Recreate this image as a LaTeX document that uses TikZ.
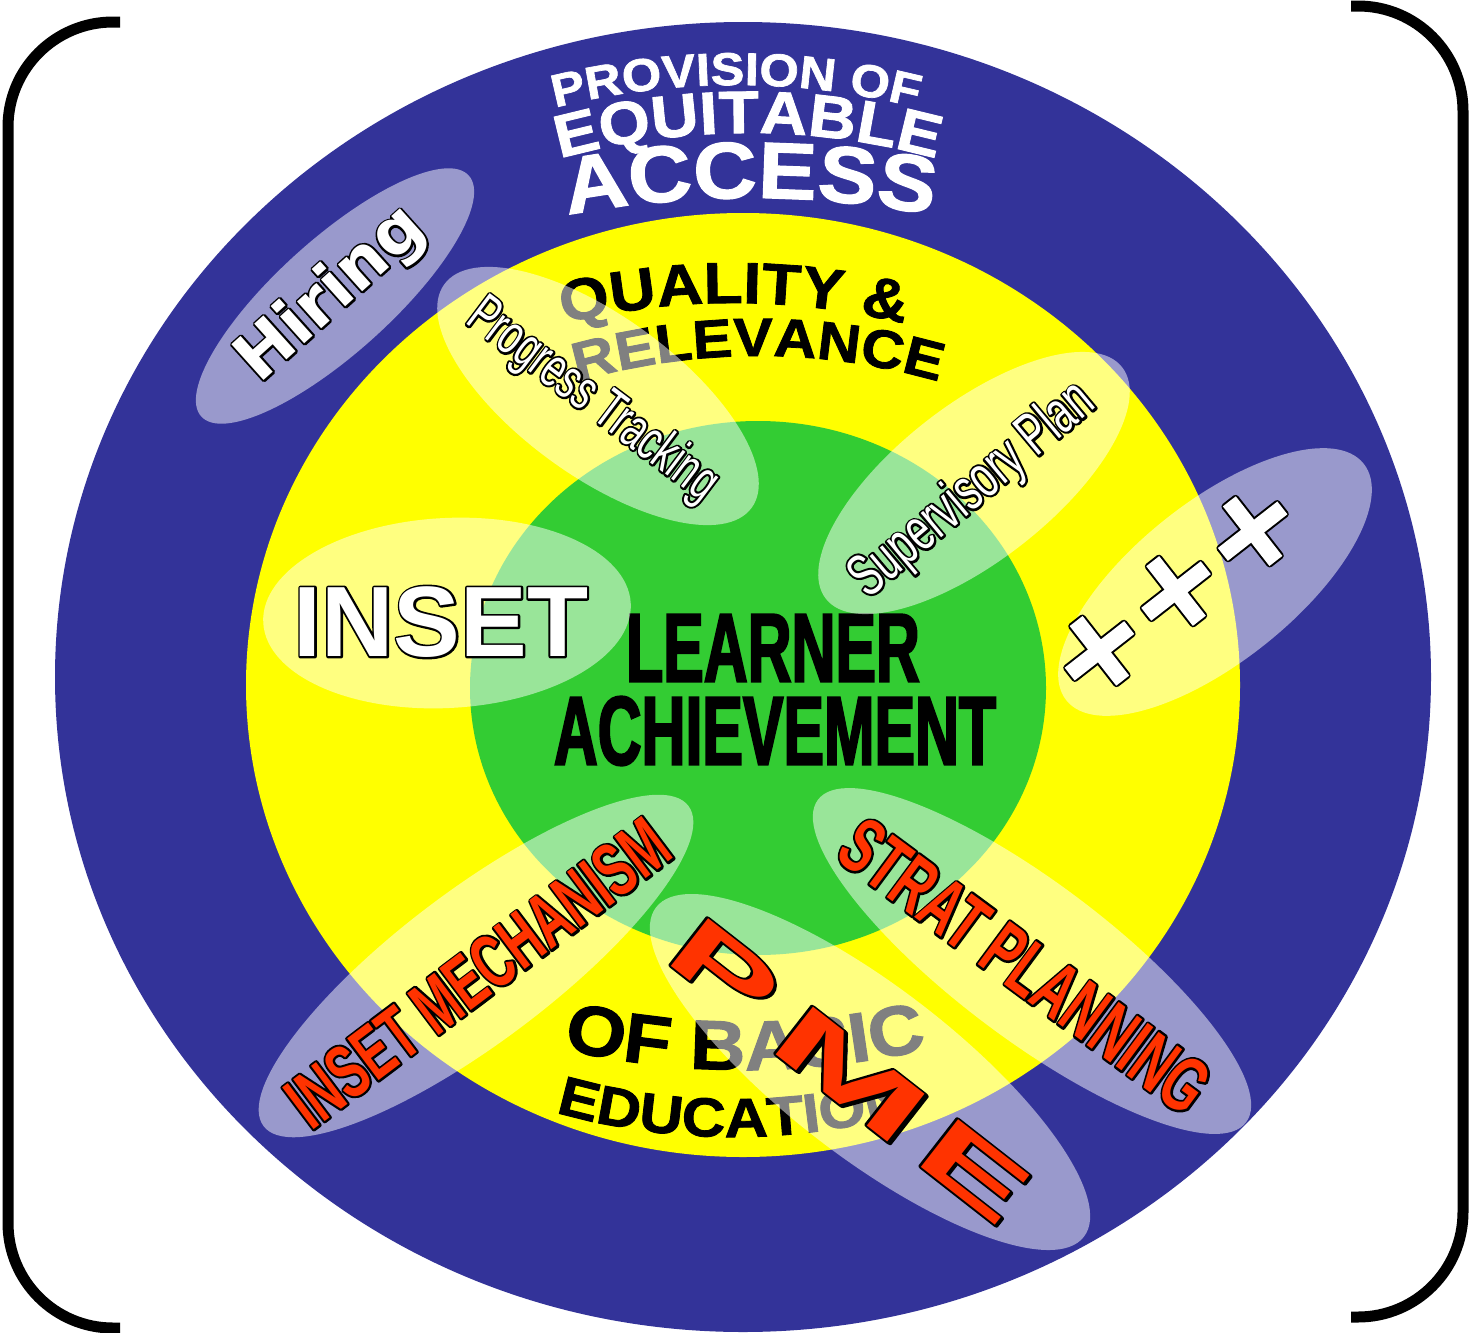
\documentclass[tikz,border=0pt]{standalone}
\usepackage{fontspec}
\setmainfont{Liberation Sans}
\newfontfamily\heavyf[FakeBold=1.5,FakeStretch=1.1]{Liberation Sans}
\newfontfamily\narrowf[FakeStretch=0.66]{Liberation Sans}
\newfontfamily\narrowfO[FakeStretch=0.66,FakeBold=7]{Liberation Sans}
\newfontfamily\narrowbf[FakeStretch=0.64]{Liberation Sans}
\newfontfamily\narrowbfO[FakeStretch=0.64,FakeBold=5.5]{Liberation Sans}
\newfontfamily\learnf[FakeStretch=0.62,FakeBold=2]{Liberation Sans}
\newfontfamily\dejab{DejaVu Sans}
\newfontfamily\dejabO[FakeBold=6]{DejaVu Sans}
\newfontfamily\plusf[FakeBold=2.5]{DejaVu Sans}
\newfontfamily\plusfO[FakeBold=6]{DejaVu Sans}
\newfontfamily\boldO[FakeBold=4]{Liberation Sans}
\usetikzlibrary{decorations.text,shapes.geometric}
\definecolor{ringblue}{HTML}{333399}
\definecolor{ringyellow}{HTML}{FFFF00}
\definecolor{ringgreen}{HTML}{33CC33}
\definecolor{alertred}{HTML}{FF3300}
\newcommand\fmtProv{\heavyf\bfseries\fontsize{46}{46}\selectfont\color{white}}
\newcommand\fmtEqui{\heavyf\bfseries\fontsize{60}{60}\selectfont\color{white}}
\newcommand\fmtAcc{\heavyf\bfseries\fontsize{80}{80}\selectfont\color{white}}
\newcommand\fmtQual{\heavyf\bfseries\fontsize{58}{58}\selectfont\color{black}}
\newcommand\fmtRel{\heavyf\bfseries\fontsize{54}{54}\selectfont\color{black}}
\newcommand\fmtOfb{\heavyf\bfseries\fontsize{70}{70}\selectfont\color{black}}
\newcommand\fmtEdu{\heavyf\bfseries\fontsize{55}{55}\selectfont\color{black}}
\begin{document}
\begin{tikzpicture}[x=1pt,y=1pt,
  bubble/.style={ellipse, fill=white, fill opacity=0.5, draw=none, inner sep=0pt},
  olayer/.style={text=black, inner sep=0pt, line join=round},
  outw/.style={text=white, inner sep=0pt},
  outr/.style={text=alertred, inner sep=0pt},
  bracket/.style={line width=11pt, black}]
\useasboundingbox (0,0) rectangle (1470,-1333);
\fill[white] (0,0) rectangle (1470,-1333);
% brackets
\draw[bracket] (120,-22) -- (113,-22) arc[start angle=90, end angle=180, radius=105]
  -- (8,-1223) arc[start angle=180, end angle=270, radius=105] -- (120,-1328);
\draw[bracket] (1351,-6) -- (1358,-6) arc[start angle=90, end angle=0, radius=105]
  -- (1463,-1212) arc[start angle=0, end angle=-90, radius=105] -- (1351,-1317);
% rings
\fill[ringblue] (743,-677) ellipse [x radius=688, y radius=655];
\fill[ringyellow] (743,-685) ellipse [x radius=497, y radius=472];
\fill[ringgreen] (758,-688) ellipse [x radius=288, y radius=267];
% curved texts
\path[decorate, decoration={text along path, text align=center, text={|\fmtProv|PROVISION OF}}]
  ([shift={(125:732)}]736,-817) arc[start angle=125, end angle=55, radius=732];
\path[decorate, decoration={text along path, text align=center, text={|\fmtEqui|EQUITABLE}}]
  ([shift={(125:707)}]748,-840) arc[start angle=125, end angle=55, radius=707];
\path[decorate, decoration={text along path, text align=center, text={|\fmtAcc|ACCESS}}]
  ([shift={(115:980)}]750,-1178) arc[start angle=115, end angle=65, radius=980];
\path[decorate, decoration={text along path, text align=center, text={|\fmtQual|QUALITY {\&}}}]
  ([shift={(125:711)}]734,-1014) arc[start angle=125, end angle=55, radius=711];
\path[decorate, decoration={text along path, text align=center, text={|\fmtRel|RELEVANCE}}]
  ([shift={(125:650)}]758,-1006) arc[start angle=125, end angle=55, radius=650];
\path[decorate, decoration={text along path, text align=center, text={|\fmtOfb|OF BASIC}}]
  ([shift={(245:800)}]745,-270) arc[start angle=245, end angle=295, radius=800];
\path[decorate, decoration={text along path, text align=center, text={|\fmtEdu|EDUCATION}}]
  ([shift={(240:650)}]733,-487) arc[start angle=240, end angle=300, radius=650];
% centre text
\node[inner sep=0pt, font=\learnf\bfseries\fontsize{98}{98}\selectfont] (learner) at (773,-648) {LEARNER};
\node[inner sep=0pt, font=\learnf\bfseries\fontsize{98}{98}\selectfont] (achieve) at (775,-731) {ACHIEVEMENT};
% Hiring
\node[bubble, minimum width=360pt, minimum height=114pt, rotate=42] (hireE) at (335,-296) {};
\node[olayer, font=\dejabO\bfseries\fontsize{66}{66}\selectfont, rotate=42] (hiringO) at (332,-295) {Hiring};
\node[outw, font=\dejab\bfseries\fontsize{66}{66}\selectfont, rotate=42] (hiring) at (332,-295) {Hiring};
% Progress Tracking
\node[bubble, minimum width=380pt, minimum height=160pt, rotate=-36] (progE) at (598,-396) {};
\node[olayer, font=\narrowfO\fontsize{56}{56}\selectfont, rotate=-37] (progressO) at (592,-401) {Progress Tracking};
\node[outw, font=\narrowf\fontsize{56}{56}\selectfont, rotate=-37] (progress) at (592,-401) {Progress Tracking};
% Supervisory Plan
\node[bubble, minimum width=376pt, minimum height=156pt, rotate=38] (supE) at (974,-483) {};
\node[olayer, font=\narrowfO\fontsize{60}{60}\selectfont, rotate=40] (supervO) at (973,-491) {Supervisory Plan};
\node[outw, font=\narrowf\fontsize{60}{60}\selectfont, rotate=40] (superv) at (973,-491) {Supervisory Plan};
% +++
\node[bubble, minimum width=380pt, minimum height=160pt, rotate=38.5] (plusE) at (1215,-582) {};
\node[olayer, font=\plusfO\bfseries\fontsize{116}{116}\selectfont, rotate=38] (plusO) at (1176,-591) {+++};
\node[outw, font=\plusf\bfseries\fontsize{116}{116}\selectfont, rotate=38] (plus) at (1176,-591) {+++};
% INSET
\node[bubble, minimum width=368pt, minimum height=190pt, rotate=3] (insetE) at (447,-613) {};
\node[olayer, font=\boldO\bfseries\fontsize{100}{100}\selectfont] (insetO) at (441,-622) {INSET};
\node[outw, font=\bfseries\fontsize{100}{100}\selectfont] (inset) at (441,-622) {INSET};
% INSET MECHANISM
\node[bubble, minimum width=532pt, minimum height=152pt, rotate=37] (mechE) at (476,-966) {};
\node[olayer, font=\narrowbfO\bfseries\fontsize{76}{76}\selectfont, rotate=37] (insetmechO) at (478,-973) {INSET MECHANISM};
\node[outr, font=\narrowbf\bfseries\fontsize{76}{76}\selectfont, rotate=37] (insetmech) at (478,-973) {INSET MECHANISM};
% STRAT PLANNING
\node[bubble, minimum width=536pt, minimum height=156pt, rotate=-37] (stratE) at (1032,-961) {};
\node[olayer, font=\narrowbfO\bfseries\fontsize{78}{78}\selectfont, rotate=-36.5] (stratO) at (1025,-966) {STRAT PLANNING};
\node[outr, font=\narrowbf\bfseries\fontsize{78}{78}\selectfont, rotate=-36.5] (strat) at (1025,-966) {STRAT PLANNING};
% PME
\node[bubble, minimum width=540pt, minimum height=170pt, rotate=-37.6] (pmeE) at (870,-1072) {};
\node[olayer, font=\boldO\bfseries\fontsize{88}{88}\selectfont, rotate=-38, xscale=1.9] (pmePO) at (725,-970) {P};
\node[outr, font=\bfseries\fontsize{88}{88}\selectfont, rotate=-38, xscale=1.9] (pmeP) at (725,-970) {P};
\node[olayer, font=\boldO\bfseries\fontsize{88}{88}\selectfont, rotate=-38, xscale=2.3] (pmeMO) at (851,-1075) {M};
\node[outr, font=\bfseries\fontsize{88}{88}\selectfont, rotate=-38, xscale=2.3] (pmeM) at (851,-1075) {M};
\node[olayer, font=\boldO\bfseries\fontsize{88}{88}\selectfont, rotate=-38, xscale=1.9] (pmeEO) at (975,-1171) {E};
\node[outr, font=\bfseries\fontsize{88}{88}\selectfont, rotate=-38, xscale=1.9] (pmeE2) at (975,-1171) {E};
\end{tikzpicture}
\end{document}
